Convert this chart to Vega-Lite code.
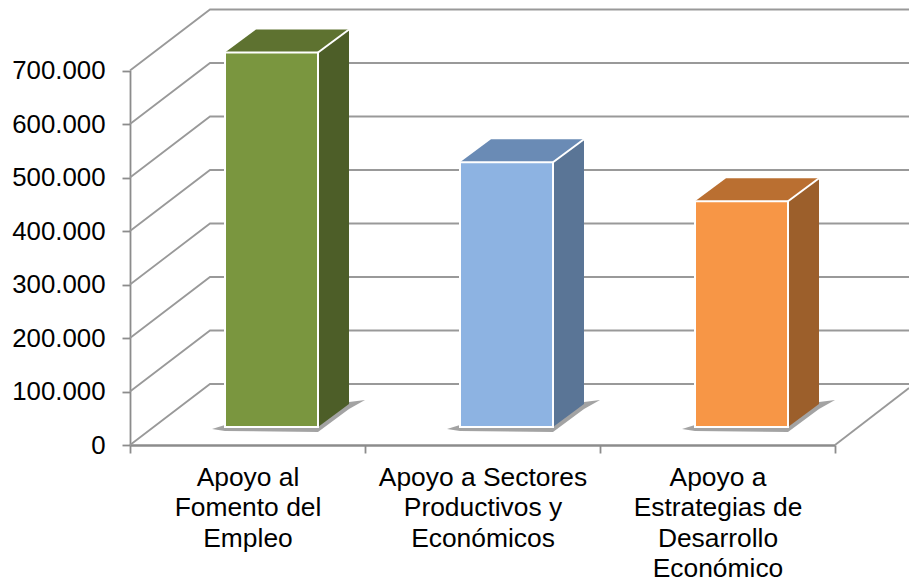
{"$schema":"https://vega.github.io/schema/vega-lite/v6.json","width":779,"height":445,"autosize":{"type":"none"},"padding":{"left":130,"top":0,"right":0,"bottom":137},"background":"white","config":{"view":{"stroke":null},"font":"Liberation Sans"},"datasets":{"bars":[{"category":"Apoyo al Fomento del Empleo","value":700000},{"category":"Apoyo a Sectores Productivos y Económicos","value":495000},{"category":"Apoyo a Estrategias de Desarrollo Económico","value":422000}],"grid":[{"level":"0","x":0,"y":0},{"level":"0","x":0.3404,"y":114000},{"level":"0","x":3.315,"y":114000},{"level":"100","x":0,"y":100000},{"level":"100","x":0.3404,"y":214000},{"level":"100","x":3.315,"y":214000},{"level":"200","x":0,"y":200000},{"level":"200","x":0.3404,"y":314000},{"level":"200","x":3.315,"y":314000},{"level":"300","x":0,"y":300000},{"level":"300","x":0.3404,"y":414000},{"level":"300","x":3.315,"y":414000},{"level":"400","x":0,"y":400000},{"level":"400","x":0.3404,"y":514000},{"level":"400","x":3.315,"y":514000},{"level":"500","x":0,"y":500000},{"level":"500","x":0.3404,"y":614000},{"level":"500","x":3.315,"y":614000},{"level":"600","x":0,"y":600000},{"level":"600","x":0.3404,"y":714000},{"level":"600","x":3.315,"y":714000},{"level":"700","x":0,"y":700000},{"level":"700","x":0.3404,"y":814000},{"level":"700","x":3.315,"y":814000},{"level":"floor","x":3,"y":0},{"level":"floor","x":3.315,"y":106500}],"shadows":[{"part":"s1","x":0.349,"y":29900,"y2":29900},{"part":"s1","x":0.404,"y":37400,"y2":26200},{"part":"s1","x":0.8,"y":37400,"y2":24300},{"part":"s1","x":0.932,"y":80400,"y2":67300},{"part":"s1","x":1.0,"y":84100,"y2":84100},{"part":"s2","x":1.349,"y":29900,"y2":29900},{"part":"s2","x":1.404,"y":37400,"y2":26200},{"part":"s2","x":1.8,"y":37400,"y2":24300},{"part":"s2","x":1.932,"y":80400,"y2":67300},{"part":"s2","x":2.0,"y":84100,"y2":84100},{"part":"s3","x":2.349,"y":29900,"y2":29900},{"part":"s3","x":2.404,"y":37400,"y2":26200},{"part":"s3","x":2.8,"y":37400,"y2":24300},{"part":"s3","x":2.932,"y":80400,"y2":67300},{"part":"s3","x":3.0,"y":84100,"y2":84100}],"faces":[{"part":"green side","x":0.8,"y":733600,"y2":33600},{"part":"green side","x":0.9319,"y":776600,"y2":76600},{"part":"green top","x":0.4043,"y":733600,"y2":733600},{"part":"green top","x":0.5362,"y":776600,"y2":733600},{"part":"green top","x":0.8,"y":776600,"y2":733600},{"part":"green top","x":0.9319,"y":776600,"y2":776600},{"part":"blue side","x":1.8,"y":528600,"y2":33600},{"part":"blue side","x":1.9319,"y":571600,"y2":76600},{"part":"blue top","x":1.4043,"y":528600,"y2":528600},{"part":"blue top","x":1.5362,"y":571600,"y2":528600},{"part":"blue top","x":1.8,"y":571600,"y2":528600},{"part":"blue top","x":1.9319,"y":571600,"y2":571600},{"part":"orange side","x":2.8,"y":455600,"y2":33600},{"part":"orange side","x":2.9319,"y":498600,"y2":76600},{"part":"orange top","x":2.4043,"y":455600,"y2":455600},{"part":"orange top","x":2.5362,"y":498600,"y2":455600},{"part":"orange top","x":2.8,"y":498600,"y2":455600},{"part":"orange top","x":2.9319,"y":498600,"y2":498600}],"edges":[{"part":"green","x":0.8,"y":733600},{"part":"green","x":0.9319,"y":776600},{"part":"blue","x":1.8,"y":528600},{"part":"blue","x":1.9319,"y":571600},{"part":"orange","x":2.8,"y":455600},{"part":"orange","x":2.9319,"y":498600}]},"resolve":{"scale":{"x":"independent","color":"independent"},"axis":{"x":"independent"}},"layer":[{"data":{"name":"grid"},"mark":{"type":"line","color":"#999999","strokeWidth":1.8},"encoding":{"detail":{"field":"level"},"order":{"field":"x","type":"quantitative"},"x":{"field":"x","type":"quantitative","axis":null,"scale":{"domain":[0,3],"range":[0,705],"nice":false,"zero":false}},"y":{"field":"y","type":"quantitative","scale":{"domain":[0,700000],"range":[445,70.5],"nice":false},"axis":{"values":[0,100000,200000,300000,400000,500000,600000,700000],"title":null,"grid":false,"domainColor":"#8c8c8c","domainWidth":1.8,"tickColor":"#8c8c8c","tickWidth":1.8,"tickSize":8,"labelFontSize":25.8,"labelColor":"#000000","labelPadding":17,"labelExpr":"replace(format(datum.value,','),',','.')"}}}},{"data":{"name":"shadows"},"mark":{"type":"area","opacity":0.6,"color":"#666666"},"encoding":{"detail":{"field":"part"},"x":{"field":"x","type":"quantitative","axis":null,"scale":{"domain":[0,3],"range":[0,705],"nice":false,"zero":false}},"y":{"field":"y","type":"quantitative","stack":null,"scale":{"domain":[0,700000],"range":[445,70.5],"nice":false}},"y2":{"field":"y2"}}},{"data":{"name":"faces"},"mark":{"type":"area"},"encoding":{"color":{"field":"part","type":"nominal","legend":null,"scale":{"domain":["green side","green top","blue side","blue top","orange side","orange top"],"range":["#4d5e28","#5e7230","#5a7596","#6a8bb5","#9c5f2b","#ba6f31"]}},"x":{"field":"x","type":"quantitative","axis":null,"scale":{"domain":[0,3],"range":[0,705],"nice":false,"zero":false}},"y":{"field":"y","type":"quantitative","stack":null,"scale":{"domain":[0,700000],"range":[445,70.5],"nice":false}},"y2":{"field":"y2"}}},{"data":{"name":"edges"},"mark":{"type":"line","color":"white","strokeWidth":2},"encoding":{"detail":{"field":"part"},"x":{"field":"x","type":"quantitative","axis":null,"scale":{"domain":[0,3],"range":[0,705],"nice":false,"zero":false}},"y":{"field":"y","type":"quantitative","scale":{"domain":[0,700000],"range":[445,70.5],"nice":false}}}},{"data":{"name":"bars"},"mark":{"type":"bar","size":93,"xOffset":24,"yOffset":-18,"y2Offset":-18,"stroke":"white","strokeWidth":2},"encoding":{"x":{"field":"category","type":"nominal","sort":null,"scale":{"range":[0,705],"paddingInner":0,"paddingOuter":0},"axis":{"title":null,"tickBand":"extent","labelAngle":0,"labelAlign":"center","labelBaseline":"top","labelPadding":11,"labelFontSize":26.4,"labelColor":"#000000","labelLineHeight":30.5,"labelLimit":0,"domainColor":"#8c8c8c","domainWidth":2.5,"tickColor":"#8c8c8c","tickWidth":1.8,"tickSize":8,"labelExpr":"{'Apoyo al Fomento del Empleo':['Apoyo al','Fomento del','Empleo'],'Apoyo a Sectores Productivos y Económicos':['Apoyo a Sectores','Productivos y','Económicos'],'Apoyo a Estrategias de Desarrollo Económico':['Apoyo a','Estrategias de','Desarrollo','Económico']}[datum.label]"}},"y":{"field":"value","type":"quantitative","scale":{"domain":[0,700000],"range":[445,70.5],"nice":false}},"color":{"field":"category","type":"nominal","legend":null,"sort":null,"scale":{"range":["#7a963f","#8db3e2","#f79646"]}}}}]}
